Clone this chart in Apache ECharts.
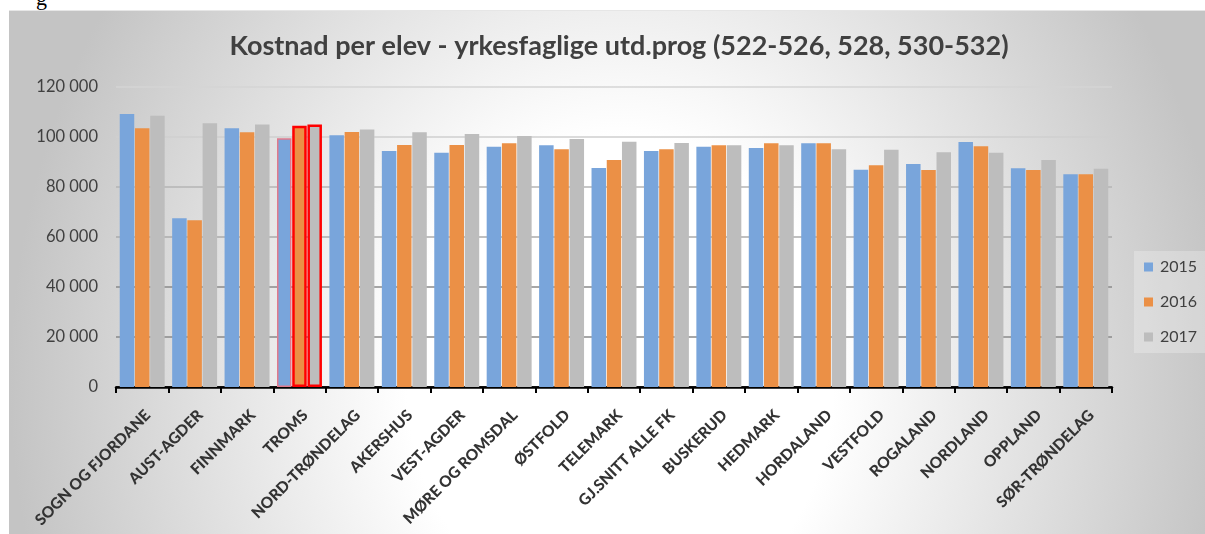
<!DOCTYPE html>
<html>
<head>
<meta charset="utf-8">
<title>Kostnad per elev</title>
<script src="https://cdn.jsdelivr.net/npm/echarts@6/dist/echarts.min.js"></script>
<style>
  html, body { margin: 0; padding: 0; background: #fff; }
  #wrap { position: relative; width: 1205px; height: 534px; overflow: hidden; }
  #bg {
    position: absolute; left: 9px; top: 10px; width: 1196px; height: 524px;
    background: radial-gradient(ellipse 610px 700px at 611px 370px, #ffffff 35%, #c4c4c4 100%);
    border-top: 1px solid #e6e6e6;
  }
  #frag { position: absolute; left: 36px; top: -15px; font: 22px "Liberation Serif", serif; color: #000; }
  #chart { position: absolute; left: 0; top: 0; width: 1205px; height: 534px; }
</style>
</head>
<body>
<div id="wrap">
  <div id="bg"></div>
  <div id="frag">g</div>
  <div id="chart"></div>
</div>
<script>
  // fylker
  var categories = ['SOGN OG FJORDANE', 'AUST-AGDER', 'FINNMARK', 'TROMS', 'NORD-TRØNDELAG', 'AKERSHUS',
    'VEST-AGDER', 'MØRE OG ROMSDAL', 'ØSTFOLD', 'TELEMARK', 'GJ.SNITT ALLE FK', 'BUSKERUD',
    'HEDMARK', 'HORDALAND', 'VESTFOLD', 'ROGALAND', 'NORDLAND', 'OPPLAND', 'SØR-TRØNDELAG'];
  var years = ['2015', '2016', '2017'];
  var cost2015 = [109200, 67500, 103500, 99500, 100700, 94400, 93700, 96100, 96700, 87600, 94400, 96100,
    95600, 97500, 86900, 89200, 98000, 87500, 85100];
  var cost2016 = [103500, 66700, 101900, 104500, 102000, 96800, 96800, 97500, 95100, 90800, 95100, 96700,
    97500, 97500, 88700, 86800, 96300, 86800, 85100];
  var cost2017 = [108500, 105500, 105000, 105000, 103000, 101900, 101200, 100400, 99200, 98100, 97600, 96700,
    96700, 95100, 94900, 93900, 93700, 90800, 87300];
  var yTicks = [0, 20000, 40000, 60000, 80000, 100000, 120000];

  var highlight = 'TROMS';
  var colors = ['#79a5db', '#eb9046', '#bdbdbd'];
  var font = 'Lato, "Open Sans", sans-serif';

  function withBorder(values, borderColor, borderWidth) {
    return values.map(function (v, i) {
      if (categories[i] !== highlight) return v;
      return {value: v, itemStyle: {borderColor: borderColor, borderWidth: borderWidth}};
    });
  }

  function fmt(v) {
    return String(v).replace(/\B(?=(\d{3})+(?!\d))/g, ' ');
  }

  var chart = echarts.init(document.getElementById('chart'));
  chart.setOption({
    backgroundColor: 'transparent',
    animation: false,
    color: colors,
    title: {
      text: 'Kostnad per elev - yrkesfaglige utd.prog (522-526, 528, 530-532)',
      left: 614,
      textAlign: 'center',
      top: 28,
      textStyle: {fontFamily: font, fontSize: 27, fontWeight: 'bold', color: '#404040'}
    },
    legend: {
      data: years,
      orient: 'vertical',
      left: 1134,
      top: 251,
      padding: [8, 8, 8, 10],
      itemWidth: 9,
      itemHeight: 9,
      itemGap: 19,
      backgroundColor: 'rgba(255,255,255,0.25)',
      icon: 'rect',
      textStyle: {fontFamily: font, fontSize: 16, color: '#404040', padding: [0, 0, 0, 2]}
    },
    grid: {left: 116, right: 93, top: 87, bottom: 147},
    xAxis: {
      type: 'category',
      data: categories,
      axisLine: {lineStyle: {color: '#000', width: 2.5}},
      axisTick: {show: true, length: 6, lineStyle: {color: '#000', width: 2}},
      axisLabel: {
        rotate: 45, interval: 0, margin: 20,
        align: 'right', verticalAlign: 'top',
        fontFamily: font, fontSize: 15.5, fontWeight: 900, color: '#333'
      }
    },
    yAxis: {
      type: 'value',
      min: yTicks[0],
      max: yTicks[yTicks.length - 1],
      interval: yTicks[1] - yTicks[0],
      axisLine: {show: false},
      axisTick: {show: false},
      axisLabel: {margin: 18, fontFamily: font, fontSize: 16.5, color: '#404040', formatter: fmt},
      splitLine: {
        lineStyle: {
          width: 1.5,
          color: ['#000', '#8a8a8a', '#8a8a8a', '#ababab', '#b5b5b5', '#cfcfcf', '#d4d4d4']
        }
      }
    },
    series: [
      {name: years[0], type: 'bar', barWidth: 14.5, barGap: '5%', data: withBorder(cost2015, '#e07a8c', 1.5)},
      {name: years[1], type: 'bar', barWidth: 14.5, barGap: '5%', data: withBorder(cost2016, '#ff0000', 2.5)},
      {name: years[2], type: 'bar', barWidth: 14.5, barGap: '5%', data: withBorder(cost2017, '#ff0000', 2.5)}
    ]
  });
</script>
</body>
</html>
